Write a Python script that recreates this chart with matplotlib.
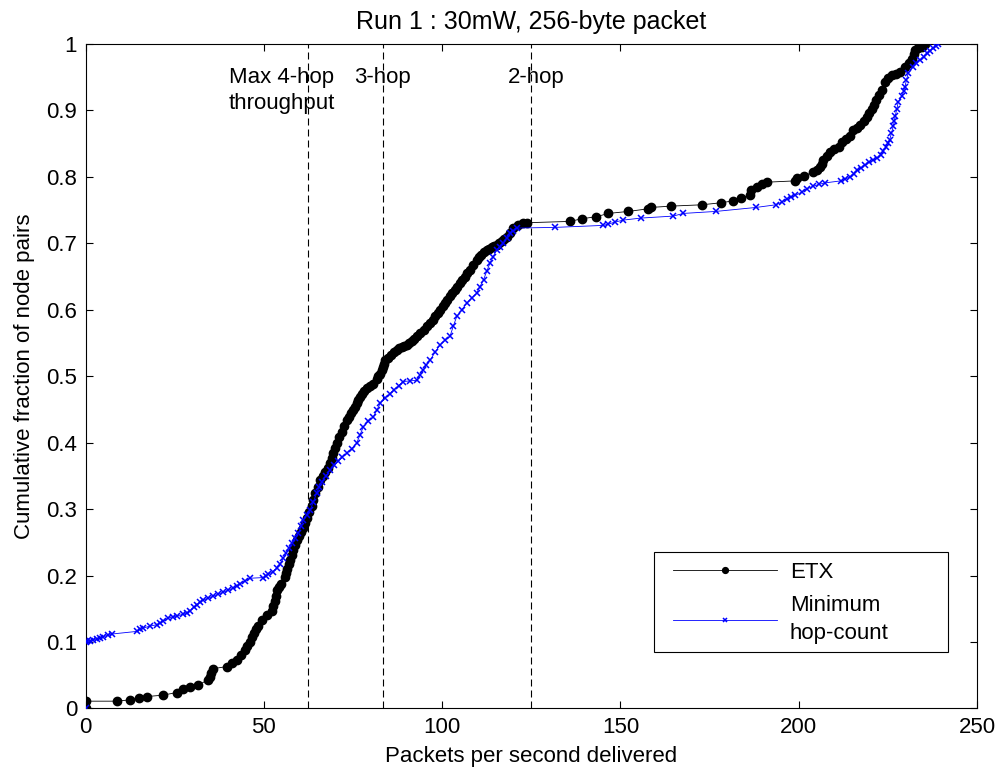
import matplotlib
matplotlib.use("Agg")
import matplotlib.pyplot as plt
from matplotlib.patches import Rectangle

plt.rcParams['font.family'] = ['Liberation Sans', 'DejaVu Sans']

# ETX curve (packets/s, cumulative fraction)
etx_x = [0, 0, 8.7, 12.5, 15.0, 17.3, 21.6, 25.6, 27.3, 29.3,
         31.4, 34.4, 34.8, 35.1, 35.8, 39.6, 41.0, 42.4, 43.5, 44.7,
         45.4, 46.0, 46.6, 47.1, 47.7, 48.3, 49.4, 50.8, 52.2, 52.6,
         53.0, 53.3, 53.6, 54.2, 54.8, 55.9, 56.3, 56.6, 57.0, 57.3,
         57.8, 58.2, 58.7, 59.2, 59.8, 60.4, 61.0, 61.6, 62.2, 62.8,
         63.4, 63.9, 64.4, 65.1, 65.8, 66.5, 67.2, 67.9, 68.6, 69.1,
         69.5, 70.0, 70.4, 71.1, 71.8, 72.5, 73.2, 73.8, 74.4, 75.0,
         75.6, 76.0, 76.5, 77.0, 77.4, 78.2, 79.0, 79.9, 80.7, 81.6,
         82.1, 82.6, 83.0, 83.3, 83.7, 84.0, 84.8, 85.6, 86.5, 87.3,
         88.0, 88.7, 89.4, 90.1, 90.8, 91.5, 92.2, 92.9, 93.8, 94.8,
         95.7, 96.6, 97.3, 98.0, 98.7, 99.4, 100.1, 100.8, 101.5, 102.2,
         102.9, 103.6, 104.3, 105.0, 105.7, 106.4, 107.1, 107.8, 108.7, 109.7,
         110.3, 111.0, 111.7, 112.5, 113.2, 113.9, 114.6, 115.3, 116.0, 116.7,
         117.4, 118.1, 119.0, 120.0, 121.4, 122.8, 123.7, 135.9, 139.1, 143.2,
         146.6, 152.2, 157.8, 158.5, 164.2, 172.8, 178.1, 181.7, 183.7, 186.4,
         186.5, 188.2, 189.6, 191.0, 199.0, 199.4, 201.5, 204.1, 205.0, 205.9,
         206.4, 206.9, 207.8, 208.8, 210.0, 211.4, 212.1, 213.2, 214.4, 215.3,
         216.3, 217.3, 218.2, 219.0, 219.8, 220.5, 221.2, 221.8, 222.6, 223.3,
         224.2, 225.1, 226.1, 227.2, 228.4, 229.8, 230.8, 231.7, 232.2, 232.6,
         233.5, 234.5, 235.4]
etx_y = [0.000, 0.011, 0.011, 0.013, 0.016, 0.018, 0.020, 0.024, 0.029, 0.032,
         0.035, 0.043, 0.048, 0.053, 0.060, 0.063, 0.068, 0.073, 0.080, 0.088,
         0.094, 0.100, 0.107, 0.113, 0.119, 0.124, 0.133, 0.140, 0.146, 0.154,
         0.162, 0.170, 0.178, 0.183, 0.188, 0.198, 0.204, 0.210, 0.217, 0.223,
         0.231, 0.238, 0.246, 0.254, 0.260, 0.266, 0.272, 0.279, 0.287, 0.296,
         0.305, 0.314, 0.324, 0.334, 0.344, 0.350, 0.356, 0.362, 0.369, 0.377,
         0.384, 0.392, 0.399, 0.408, 0.416, 0.425, 0.434, 0.439, 0.444, 0.449,
         0.454, 0.459, 0.464, 0.469, 0.474, 0.478, 0.482, 0.486, 0.489, 0.496,
         0.500, 0.504, 0.509, 0.514, 0.519, 0.524, 0.528, 0.532, 0.536, 0.540,
         0.542, 0.544, 0.545, 0.547, 0.550, 0.553, 0.556, 0.560, 0.565, 0.570,
         0.575, 0.580, 0.585, 0.590, 0.595, 0.600, 0.605, 0.610, 0.615, 0.620,
         0.625, 0.630, 0.635, 0.640, 0.645, 0.650, 0.655, 0.660, 0.668, 0.675,
         0.679, 0.683, 0.687, 0.690, 0.692, 0.694, 0.696, 0.698, 0.701, 0.704,
         0.707, 0.710, 0.716, 0.723, 0.727, 0.730, 0.731, 0.733, 0.737, 0.740,
         0.745, 0.748, 0.752, 0.754, 0.756, 0.758, 0.761, 0.764, 0.768, 0.773,
         0.781, 0.785, 0.789, 0.792, 0.794, 0.798, 0.801, 0.808, 0.811, 0.815,
         0.820, 0.825, 0.831, 0.838, 0.842, 0.845, 0.853, 0.857, 0.861, 0.871,
         0.874, 0.878, 0.884, 0.890, 0.896, 0.902, 0.908, 0.915, 0.923, 0.931,
         0.943, 0.949, 0.953, 0.955, 0.958, 0.966, 0.972, 0.978, 0.985, 0.991,
         0.994, 0.996, 1.000]

# Minimum hop-count curve
hop_x = [0, 0, 0.5, 1.3, 2.2, 3.2, 4.1, 5.0, 6.2, 7.3,
         14.4, 15.3, 16.2, 18.0, 20.0, 21.0, 21.8, 23.2, 24.4, 25.6,
         27.4, 28.4, 29.3, 30.3, 31.2, 32.1, 33.0, 34.4, 35.8, 37.2,
         38.6, 40.0, 41.4, 42.4, 43.3, 44.7, 46.1, 49.9, 50.6, 51.3,
         52.5, 53.6, 54.6, 55.5, 56.2, 57.0, 57.8, 58.8, 59.7, 60.4,
         61.1, 62.0, 63.0, 63.9, 64.8, 65.5, 66.2, 67.4, 68.6, 69.8,
         70.9, 72.0, 73.2, 74.6, 76.0, 77.0, 77.9, 79.3, 80.7, 81.7,
         82.6, 84.0, 85.4, 86.6, 87.8, 89.1, 91.0, 92.9, 93.8, 94.7,
         95.6, 96.6, 98.0, 99.4, 100.8, 102.2, 103.1, 104.1, 105.5, 106.9,
         108.3, 109.7, 110.6, 111.6, 112.5, 113.4, 114.3, 115.3, 116.2, 117.2,
         118.1, 119.0, 120.0, 120.9, 131.7, 145.2, 146.6, 148.5, 150.8, 155.7,
         164.8, 167.6, 176.7, 188.0, 193.6, 195.2, 196.6, 197.8, 199.0, 200.8,
         202.2, 204.1, 205.8, 207.4, 211.8, 213.1, 214.4, 215.4, 216.3, 217.5,
         218.6, 219.8, 220.9, 222.0, 223.0, 223.7, 224.4, 225.0, 225.5, 226.0,
         226.5, 226.8, 227.0, 227.5, 227.9, 228.9, 229.4, 229.8, 230.2, 230.7,
         232.1, 233.0, 234.0, 235.0, 235.9, 236.8, 237.7, 238.4, 239.1]
hop_y = [0.000, 0.100, 0.101, 0.102, 0.103, 0.105, 0.106, 0.108, 0.110, 0.112,
         0.116, 0.119, 0.121, 0.124, 0.126, 0.129, 0.131, 0.136, 0.138, 0.139,
         0.142, 0.144, 0.147, 0.152, 0.156, 0.160, 0.163, 0.166, 0.169, 0.172,
         0.175, 0.178, 0.181, 0.185, 0.188, 0.192, 0.196, 0.197, 0.200, 0.202,
         0.206, 0.211, 0.218, 0.226, 0.234, 0.241, 0.249, 0.256, 0.264, 0.274,
         0.284, 0.291, 0.299, 0.311, 0.324, 0.333, 0.341, 0.350, 0.359, 0.366,
         0.372, 0.378, 0.384, 0.391, 0.399, 0.412, 0.424, 0.432, 0.439, 0.449,
         0.459, 0.467, 0.474, 0.480, 0.486, 0.492, 0.493, 0.494, 0.502, 0.509,
         0.517, 0.524, 0.536, 0.547, 0.554, 0.560, 0.575, 0.590, 0.600, 0.610,
         0.618, 0.625, 0.635, 0.645, 0.658, 0.670, 0.680, 0.690, 0.695, 0.700,
         0.708, 0.715, 0.719, 0.723, 0.724, 0.727, 0.729, 0.732, 0.735, 0.738,
         0.741, 0.745, 0.748, 0.754, 0.758, 0.762, 0.767, 0.770, 0.772, 0.777,
         0.782, 0.786, 0.789, 0.791, 0.794, 0.797, 0.800, 0.805, 0.810, 0.814,
         0.818, 0.822, 0.825, 0.829, 0.833, 0.839, 0.845, 0.851, 0.856, 0.866,
         0.876, 0.884, 0.891, 0.902, 0.913, 0.921, 0.929, 0.936, 0.946, 0.956,
         0.966, 0.971, 0.976, 0.981, 0.986, 0.990, 0.994, 0.997, 1.000]

# max throughput for 4, 3, 2 hops (250 pkt/s single hop)
hop_limits = [62.5, 83.33, 125.0]
x_ticks = [0, 50, 100, 150, 200, 250]
y_ticks = [0, 0.1, 0.2, 0.3, 0.4, 0.5, 0.6, 0.7, 0.8, 0.9, 1]
y_ticklabels = ['0', '0.1', '0.2', '0.3', '0.4', '0.5', '0.6', '0.7', '0.8', '0.9', '1']

fs = 16

fig = plt.figure(figsize=(9.97, 7.69), dpi=100)
ax = fig.add_axes([0.0858, 0.0787, 0.8942, 0.8641])

for xl in hop_limits:
    ax.axvline(xl, color='k', lw=0.8, dashes=(6.3, 3.6), zorder=1)

ax.plot(etx_x, etx_y, color='k', lw=0.6, marker='o', ms=6, mfc='k', mec='k',
        label='ETX', zorder=3)
ax.plot(hop_x, hop_y, color='b', lw=0.6, marker='x', ms=4.5, mew=1.1,
        label='Minimum\nhop-count', zorder=4)

ax.text(55.1, 0.949, 'Max 4-hop', ha='center', va='center', fontsize=fs)
ax.text(55.1, 0.911, 'throughput', ha='center', va='center', fontsize=fs)
ax.text(83.4, 0.949, '3-hop', ha='center', va='center', fontsize=fs)
ax.text(126.3, 0.949, '2-hop', ha='center', va='center', fontsize=fs)

ax.set_xlim(0, 250)
ax.set_ylim(0, 1)
ax.set_xticks(x_ticks)
ax.set_yticks(y_ticks)
ax.set_yticklabels(y_ticklabels)
ax.tick_params(direction='in', top=True, right=True, length=5, width=0.8,
               labelsize=fs, pad=6)
for s in ax.spines.values():
    s.set_linewidth(0.8)

ax.set_title('Run 1 : 30mW, 256-byte packet', fontsize=18, pad=11)
ax.set_xlabel('Packets per second delivered', fontsize=fs, labelpad=6)
ax.set_ylabel('Cumulative fraction of node pairs', fontsize=fs, labelpad=8)

# legend box (matlab style)
ax.add_patch(Rectangle((0.638, 0.085), 0.329, 0.1505, transform=ax.transAxes,
                       facecolor='white', edgecolor='k', lw=0.8, zorder=5))
leg = ax.legend(loc='upper left', bbox_to_anchor=(0.659, 0.2205), frameon=False,
                fontsize=fs, handlelength=4.7, handletextpad=0.55,
                markerscale=0.7, numpoints=1, labelspacing=0.55,
                borderpad=0, borderaxespad=0)
leg.get_texts()[1].set_linespacing(1.4)
leg.set_zorder(6)

plt.savefig('out.png', dpi=100)
